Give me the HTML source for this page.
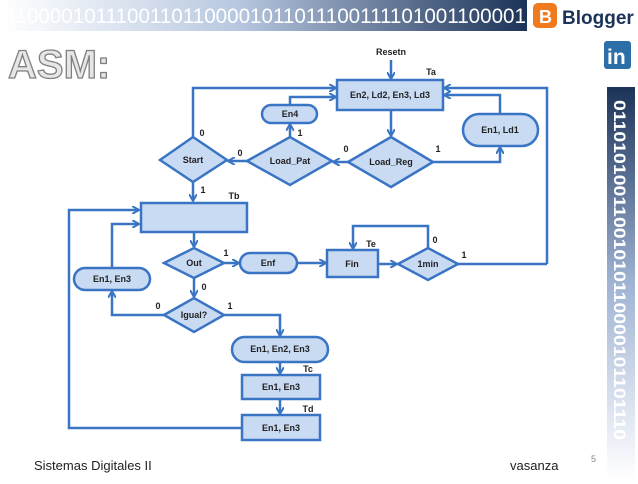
<!DOCTYPE html>
<html><head><meta charset="utf-8"><style>
body{margin:0;width:638px;height:479px;overflow:hidden;background:#fff;font-family:"Liberation Sans",sans-serif}
</style></head><body>
<svg width="638" height="479" viewBox="0 0 638 479" xmlns="http://www.w3.org/2000/svg">
<defs>
<linearGradient id="hb" x1="0" x2="1" y1="0" y2="0">
<stop offset="0" stop-color="#fff"/><stop offset="0.45" stop-color="#b8c8e0"/><stop offset="1" stop-color="#1c3358"/></linearGradient>
<linearGradient id="vb" x1="0" x2="0" y1="0" y2="1">
<stop offset="0" stop-color="#1c3358"/><stop offset="0.5" stop-color="#9fb3d3"/><stop offset="1" stop-color="#fff"/></linearGradient>
<marker id="a" markerWidth="8" markerHeight="8" refX="7" refY="4" orient="auto" markerUnits="userSpaceOnUse"><path d="M0,0 L7,4 L0,8" fill="none" stroke="#3a74c4" stroke-width="2"/></marker>
</defs>
<rect x="0" y="0" width="527" height="31" fill="url(#hb)"/>
<text x="-6" y="23" font-size="21" fill="#fff" font-family="Liberation Sans" textLength="532" lengthAdjust="spacingAndGlyphs">011000010111001101100001011011100111101001100001</text>
<rect x="533" y="3" width="24" height="25" rx="5" fill="#f07a1e"/>
<text x="539" y="23" font-size="18" font-weight="bold" fill="#fff">B</text>
<text x="562" y="24" font-size="19" font-weight="bold" fill="#1c3358">Blogger</text>
<rect x="604" y="41" width="27" height="28" rx="3" fill="#2c6ea8"/>
<text x="607" y="64" font-size="21" font-weight="bold" fill="#fff">in</text>
<rect x="607" y="87" width="28" height="392" fill="url(#vb)"/>
<text transform="translate(614,100) rotate(90)" font-size="17" font-weight="bold" fill="#fff" textLength="340" lengthAdjust="spacingAndGlyphs">01101010011001010110000101101110</text>
<text x="8" y="78" font-size="40" font-weight="bold" fill="#e6e6e6" stroke="#808080" stroke-width="1.3">ASM:</text>
<text x="34" y="470" font-size="13" fill="#222">Sistemas Digitales II</text>
<text x="510" y="470" font-size="13" fill="#222">vasanza</text>
<text x="591" y="462" font-size="9" fill="#888">5</text>
<g stroke="#3a74c4" stroke-width="2.5" fill="none">
<line x1="391" y1="60" x2="391" y2="79" marker-end="url(#a)"/>
<polyline points="193,137 193,88 336,88" marker-end="url(#a)"/>
<polyline points="290,105 290,97 336,97" marker-end="url(#a)"/>
<polyline points="290,137 290,124" marker-end="url(#a)"/>
<polyline points="500,114 500,95 444,95" marker-end="url(#a)"/>
<polyline points="547,264 547,88 444,88" marker-end="url(#a)"/>
<line x1="391" y1="110" x2="391" y2="136" marker-end="url(#a)"/>
<line x1="348" y1="162" x2="333" y2="162" marker-end="url(#a)"/>
<line x1="247" y1="161" x2="228" y2="161" marker-end="url(#a)"/>
<polyline points="433,162 500,162 500,147" marker-end="url(#a)"/>
<line x1="193" y1="182" x2="193" y2="201" marker-end="url(#a)"/>
<line x1="194" y1="232" x2="194" y2="247" marker-end="url(#a)"/>
<line x1="224" y1="263" x2="239" y2="263" marker-end="url(#a)"/>
<line x1="297" y1="263" x2="326" y2="263" marker-end="url(#a)"/>
<line x1="378" y1="264" x2="397" y2="264" marker-end="url(#a)"/>
<polyline points="428,248 428,226 353,226 353,249" marker-end="url(#a)"/>
<line x1="458" y1="264" x2="547" y2="264"/>
<line x1="194" y1="278" x2="194" y2="297" marker-end="url(#a)"/>
<polyline points="164,315 112,315 112,291" marker-end="url(#a)"/>
<polyline points="112,268 112,224 139,224" marker-end="url(#a)"/>
<polyline points="242,428 69,428 69,210 139,210" marker-end="url(#a)"/>
<polyline points="224,315 280,315 280,336" marker-end="url(#a)"/>
<line x1="280" y1="362" x2="280" y2="374" marker-end="url(#a)"/>
<line x1="280" y1="399" x2="280" y2="414" marker-end="url(#a)"/>
</g>
<g fill="#c9daf3" stroke="#3a74c4" stroke-width="2.5">
<rect x="337" y="80" width="106" height="30"/>
<rect x="141" y="203" width="106" height="29"/>
<rect x="327" y="250" width="51" height="27"/>
<rect x="242" y="375" width="78" height="24"/>
<rect x="242" y="415" width="78" height="25"/>
<rect x="262" y="105" width="55" height="18" rx="9"/>
<rect x="463" y="114" width="75" height="32" rx="16"/>
<rect x="240" y="253" width="57" height="20" rx="10"/>
<rect x="74" y="268" width="76" height="22" rx="11"/>
<rect x="232" y="337" width="96" height="25" rx="12.5"/>
<polygon points="160,160 193,137 227,160 193,182"/>
<polygon points="247,161 290,137 332,161 290,185"/>
<polygon points="348,162 391,137 433,162 391,187"/>
<polygon points="164,263 194,248 224,263 194,278"/>
<polygon points="398,264 428,248 458,264 428,280"/>
<polygon points="164,315 194,298 224,315 194,332"/>
</g>
<g font-size="9" font-weight="bold" fill="#222" text-anchor="middle">
<text x="391" y="55">Resetn</text><text x="431" y="75">Ta</text>
<text x="390" y="98">En2, Ld2, En3, Ld3</text>
<text x="290" y="117">En4</text><text x="500" y="133">En1, Ld1</text>
<text x="193" y="163">Start</text><text x="290" y="164">Load_Pat</text><text x="391" y="165">Load_Reg</text>
<text x="234" y="199">Tb</text>
<text x="194" y="266">Out</text><text x="268" y="266">Enf</text><text x="352" y="267">Fin</text><text x="428" y="267">1min</text>
<text x="371" y="247">Te</text>
<text x="112" y="282">En1, En3</text><text x="194" y="318">Igual?</text>
<text x="280" y="352">En1, En2, En3</text>
<text x="281" y="390">En1, En3</text><text x="281" y="431">En1, En3</text>
<text x="308" y="372">Tc</text><text x="308" y="412">Td</text>
<text x="202" y="136">0</text><text x="240" y="156">0</text><text x="300" y="136">1</text>
<text x="346" y="152">0</text><text x="438" y="152">1</text><text x="203" y="193">1</text>
<text x="226" y="256">1</text><text x="204" y="290">0</text><text x="158" y="309">0</text><text x="230" y="309">1</text>
<text x="435" y="243">0</text><text x="464" y="258">1</text>
</g>
</svg>
</body></html>
